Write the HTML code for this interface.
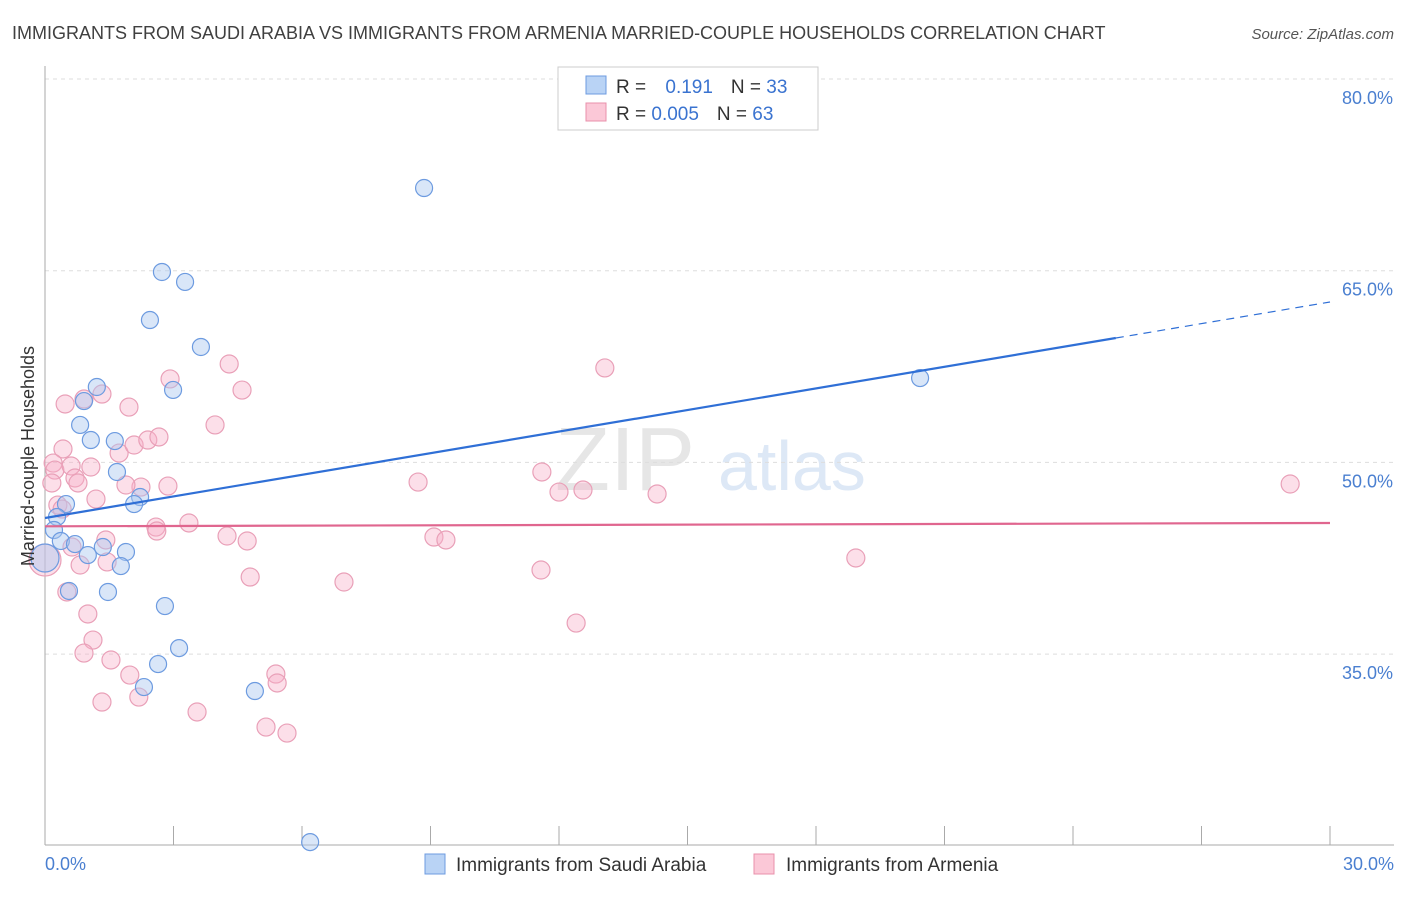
<!DOCTYPE html>
<html><head><meta charset="utf-8"><style>
body{margin:0;background:#fff;font-family:"Liberation Sans",sans-serif}
svg text{font-family:"Liberation Sans",sans-serif}
</style></head><body>
<svg id="chart" width="1406" height="892" xmlns="http://www.w3.org/2000/svg">
<text x="12" y="39" font-size="18" fill="#404040">IMMIGRANTS FROM SAUDI ARABIA VS IMMIGRANTS FROM ARMENIA MARRIED-COUPLE HOUSEHOLDS CORRELATION CHART</text>
<text x="1394" y="39" font-size="15" fill="#555" font-style="italic" text-anchor="end">Source: ZipAtlas.com</text>
<text x="555" y="490" font-size="90" fill="#e6e6e6" font-family="Liberation Serif">ZIP</text>
<text x="718" y="490" font-size="70" fill="#dde8f6">atlas</text>
<g id="grid"></g>
<g id="pts"></g>
<g id="lines"></g>
<text transform="translate(34,456) rotate(-90)" font-size="18" fill="#333" text-anchor="middle">Married-couple Households</text>
<g>
<rect x="558" y="67" width="260" height="63" fill="#fff" stroke="#ccc"/>
<rect x="586" y="76" width="20" height="18" fill="#b9d3f5" stroke="#6d9be0"/>
<rect x="586" y="103" width="20" height="18" fill="#fbc8d7" stroke="#e890ab"/>
<text x="616" y="93" font-size="19" fill="#333">R = <tspan fill="#3a73d0" dx="14">0.191</tspan><tspan dx="18" fill="#333">N = </tspan><tspan fill="#3a73d0">33</tspan></text>
<text x="616" y="120" font-size="19" fill="#333">R = <tspan fill="#3a73d0">0.005</tspan><tspan dx="18" fill="#333">N = </tspan><tspan fill="#3a73d0">63</tspan></text>
</g>
<g>
<rect x="425" y="854" width="20" height="20" fill="#b9d3f5" stroke="#6d9be0"/>
<text x="456" y="871" font-size="19" fill="#333">Immigrants from Saudi Arabia</text>
<rect x="754" y="854" width="20" height="20" fill="#fbc8d7" stroke="#e890ab"/>
<text x="786" y="871" font-size="19" fill="#333">Immigrants from Armenia</text>
</g>
</svg>
<script>
const yTicks=[80,65,50,35];
const xTickLabels=["0.0%","30.0%"];
const blueX=[8.85,2.73,3.27,2.45,3.64,2.99,1.21,0.91,0.82,1.07,1.63,1.68,2.22,2.08,0.49,0.28,0.21,0.37,0.70,1.00,1.35,1.89,1.77,0.56,1.47,2.80,3.13,2.64,2.31,4.90,6.19,20.43,0.0];
const blueY=[71.47,64.90,64.12,61.14,59.03,55.67,55.90,54.80,52.93,51.75,51.67,49.25,47.29,46.74,46.74,45.73,44.71,43.85,43.61,42.75,43.38,42.99,41.89,39.94,39.86,38.76,35.47,34.22,32.42,32.11,20.29,56.60,42.52];
const pinkX=[0.47,0.42,0.19,0.23,0.16,0.30,0.40,0.61,0.70,0.77,1.07,1.19,1.33,0.91,1.96,1.73,2.08,2.40,2.66,2.92,2.87,2.24,1.89,2.59,2.61,3.36,3.97,4.30,4.60,4.25,4.72,4.79,1.42,1.45,0.82,0.63,0.51,1.00,1.12,0.91,1.54,1.98,2.19,1.33,3.55,5.16,5.65,5.39,5.42,6.98,8.71,9.08,9.36,11.60,12.00,12.56,14.29,13.07,11.58,12.40,18.93,29.07,0];
const pinkY=[54.57,51.05,49.95,49.40,48.39,46.66,46.35,49.72,48.78,48.39,49.64,47.13,55.35,54.96,54.33,50.73,51.36,51.75,51.99,56.53,48.15,48.07,48.23,44.94,44.63,45.26,52.93,57.70,55.66,44.24,43.85,41.03,43.93,42.21,41.97,43.38,39.86,38.14,36.10,35.08,34.54,33.36,31.64,31.25,30.47,29.29,28.82,33.44,32.74,40.64,48.46,44.16,43.93,49.25,47.68,47.84,47.53,57.39,41.58,37.43,42.52,48.31,42.36];
const blueLine=[45.65,62.55];
const pinkLine=[45.0,45.26];
const X=v=>45+v/30*1285, Y=v=>79+(80-v)*12.78;
const NS="http://www.w3.org/2000/svg";
function mk(t,a,p){const e=document.createElementNS(NS,t);for(const k in a)e.setAttribute(k,a[k]);p.appendChild(e);return e;}
const g=document.getElementById('grid');
yTicks.forEach(v=>{
 const l=mk('line',{x1:45,x2:1394,y1:Y(v),y2:Y(v),stroke:'#ddd','stroke-dasharray':'4,4'},g);
 
 
 const t=mk('text',{x:1393,y:Y(v)+25,'font-size':18,fill:'#4a7fd0','text-anchor':'end'},g);
 t.textContent=v.toFixed(1)+'%';
 
 
});
const ax=mk('line',{x1:45,x2:45,y1:66,y2:845,stroke:'#aaa'},g);


const bx=mk('line',{x1:45,x2:1394,y1:845,y2:845,stroke:'#aaa'},g);


for(let i=0;i<=10;i++){const t=mk('line',{x1:X(i*3),x2:X(i*3),y1:826,y2:845,stroke:'#aaa'},g);
 
 }
[[0,'start',45],[30,'end',1394]].forEach((d,i)=>{const t=mk('text',{x:d[2],y:870,'font-size':18,fill:'#4a7fd0','text-anchor':d[1]},g);t.textContent=xTickLabels[i];
 
 });
const p=document.getElementById('pts');
pinkX.forEach((x,i)=>{const r=(i==pinkX.length-1)?16:9;const c=mk('circle',{cx:X(x),cy:Y(pinkY[i]),r:r,fill:'rgba(247,176,200,0.4)',stroke:'#e9a0b8','stroke-width':1.2},p);
 
 });
blueX.forEach((x,i)=>{const r=(i==blueX.length-1)?14:8.5;const c=mk('circle',{cx:X(x),cy:Y(blueY[i]),r:r,fill:'rgba(170,200,240,0.45)',stroke:'#6d9be0','stroke-width':1.2},p);
 
 });
const L=document.getElementById('lines');
const split=25;
const by=v=>blueLine[0]+(blueLine[1]-blueLine[0])*v/30;
const b1=mk('line',{x1:X(0),y1:Y(by(0)),x2:X(split),y2:Y(by(split)),stroke:'#2f6fd6','stroke-width':2.2},L);


const b2=mk('line',{x1:X(split),y1:Y(by(split)),x2:X(30),y2:Y(by(30)),stroke:'#2f6fd6','stroke-width':1.2,'stroke-dasharray':'8,6'},L);


const pl=mk('line',{x1:X(0),y1:Y(pinkLine[0]),x2:X(30),y2:Y(pinkLine[1]),stroke:'#e0668f','stroke-width':2.2},L);


</script>
</body></html>
